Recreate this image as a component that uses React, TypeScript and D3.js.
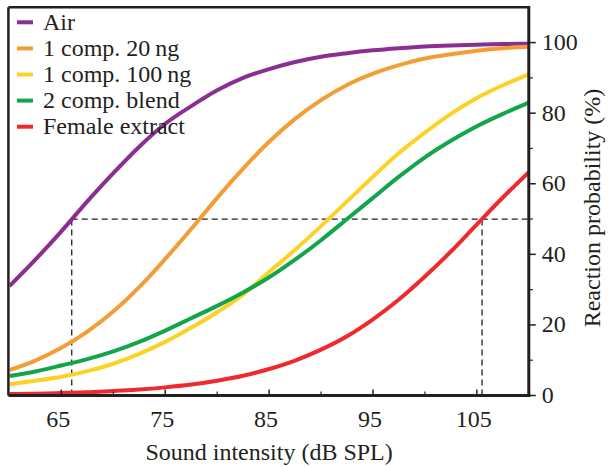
import * as d3 from 'd3';
import React from 'react';

const intensity = [60, 62.5, 65, 67.5, 70, 72.5, 75, 77.5, 80, 82.5, 85, 87.5, 90, 92.5, 95, 97.5, 100, 102.5, 105, 107.5, 110];

const air = [31, 38.5, 46.5, 55, 63, 70.5, 77, 82, 86.5, 90, 92.5, 94.5, 96, 97, 97.8, 98.4, 98.9, 99.2, 99.4, 99.6, 99.7];
const comp20 = [7.2, 9.9, 13.5, 18.1, 23.8, 30.7, 38.7, 47.2, 56, 64.3, 71.9, 78.4, 83.7, 88, 91.2, 93.6, 95.5, 96.7, 97.7, 98.4, 98.8];
const comp100 = [3.2, 4.2, 5.3, 6.9, 9, 11.8, 15.2, 19.2, 23.6, 28.6, 35, 41.3, 48, 55, 62, 68.7, 74.5, 79.8, 84.3, 87.9, 91];
const blend = [5.5, 6.8, 8.5, 10.3, 12.5, 15.2, 18.4, 21.9, 25.4, 29.2, 33.5, 38.5, 44, 50, 56, 62, 67.5, 72.2, 76.3, 79.8, 83];
const female = [0.4, 0.5, 0.7, 0.9, 1.3, 1.7, 2.3, 3.1, 4.2, 5.6, 7.5, 9.9, 13, 16.8, 21.6, 27.2, 33.7, 40.8, 48.5, 56.1, 63.3];

const seriesNames = ['Air', '1 comp. 20\u2009ng', '1 comp. 100\u2009ng', '2 comp. blend', 'Female extract'];
const seriesColors = ['#8a2e92', '#f59d35', '#fdd227', '#13a54b', '#ee2a2f'];
const seriesValues = [air, comp20, comp100, blend, female];

const xTicks = [65, 75, 85, 95, 105];
const xMinorTicks = [70, 80, 90, 100];
const yTicks = [0, 20, 40, 60, 80, 100];
const yMinorTicks = [10, 30, 50, 70, 90];

const xTitle = 'Sound intensity (dB SPL)';
const yTitle = 'Reaction probability (%)';

// threshold guides (50 % reaction)
const guideLevel = 50;
const guideLeft = 66;
const guideRight = 105.5;

const left = 9.4, right = 528.8, top = 7.3, bottom = 395.5;
const serif = { fontFamily: "'Liberation Serif'" };
const ink = '#231f20';

function App() {
    const x = d3.scaleLinear().domain([60, 110]).range([left, right]);
    const y = d3.scaleLinear().domain([0, 110]).range([bottom, top]);

    const line = d3.line<number>()
        .x((d, i) => x(intensity[i]))
        .y(d => y(d))
        .curve(d3.curveMonotoneX);

    return (
        <svg width={611} height={467}
            style={{ position: 'absolute', left: 0, top: 0, background: '#fff' }}>
            <defs>
                <clipPath id="plotclip">
                    <rect x={left} y={top} width={right - left} height={bottom - top} />
                </clipPath>
            </defs>

            {/* dashed guides */}
            <g stroke={ink} strokeWidth={1.3} strokeDasharray="6,4" fill="none">
                <line x1={x(guideLeft)} x2={x(guideLeft)} y1={y(0)} y2={y(guideLevel)} />
                <line x1={x(guideLeft)} x2={right} y1={y(guideLevel)} y2={y(guideLevel)} />
                <line x1={x(guideRight)} x2={x(guideRight)} y1={y(0)} y2={y(guideLevel)} />
            </g>

            <g clipPath="url(#plotclip)">
                {seriesValues.map((vals, i) => (
                    <path key={i} d={line(vals) || ''} fill="none" stroke={seriesColors[i]} strokeWidth={4} />
                ))}
            </g>

            {/* frame */}
            <g stroke={ink} fill="none">
                <line x1={left - 1} x2={right} y1={top} y2={top} strokeWidth={2.5} />
                <line x1={left - 1} x2={left - 1} y1={top} y2={bottom} strokeWidth={2.5} />
                <line x1={left - 1} x2={right + 1.5} y1={bottom} y2={bottom} strokeWidth={3} />
                <line x1={right} x2={right} y1={top - 1.2} y2={bottom + 1.5} strokeWidth={3} />
                {xTicks.map(t => (
                    <line key={'xt' + t} x1={x(t)} x2={x(t)} y1={bottom} y2={bottom - 6} strokeWidth={1.5} />
                ))}
                {xMinorTicks.map(t => (
                    <line key={'xm' + t} x1={x(t)} x2={x(t)} y1={bottom} y2={bottom - 4} strokeWidth={1.2} />
                ))}
                {yTicks.map(t => (
                    <line key={'yt' + t} x1={right} x2={right + 7} y1={y(t)} y2={y(t)} strokeWidth={1.5} />
                ))}
                {yMinorTicks.map(t => (
                    <line key={'ym' + t} x1={right} x2={right + 4} y1={y(t)} y2={y(t)} strokeWidth={1.2} />
                ))}
            </g>

            {/* legend swatches */}
            {seriesNames.map((name, i) => (
                <rect key={name} x={17} y={20.3 + i * 26.1} width={16} height={4} fill={seriesColors[i]} />
            ))}

            {/* all horizontal labels in one text element */}
            <text fontSize={24} fill={ink} style={serif}>
                <tspan x={(left + right) / 2} y={460} textAnchor="middle">{xTitle}</tspan>
                {xTicks.map(t => (
                    <tspan key={'xl' + t} x={x(t) - 3} y={427} textAnchor="middle">{String(t)}</tspan>
                ))}
                {yTicks.map(t => (
                    <tspan key={'yl' + t} x={right + 13} y={y(t) + 7.5} textAnchor="start">{String(t)}</tspan>
                ))}
                {seriesNames.map((name, i) => (
                    <tspan key={'lg' + i} x={43} y={29.8 + i * 26.1} textAnchor="start">{name}</tspan>
                ))}
            </text>

            <text transform="translate(600,208) rotate(-90)" textAnchor="middle" fontSize={24} fill={ink} style={serif}>
                {yTitle}
            </text>
        </svg>
    );
}

export default App;
